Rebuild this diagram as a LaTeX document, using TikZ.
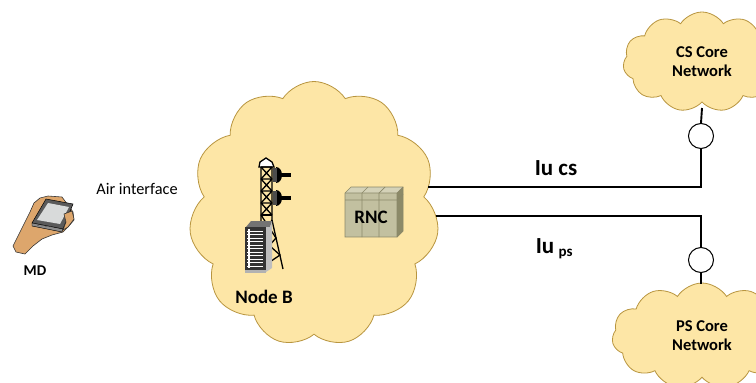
\documentclass[tikz,border=0pt]{standalone}
\usepackage{fontspec}
\setmainfont{Carlito}
\usetikzlibrary{shapes.symbols}

\definecolor{cloudfill}{HTML}{FDE6A6}
\definecolor{cloudline}{HTML}{B8953F}
\definecolor{rncfront}{HTML}{C2C0A0}
\definecolor{rnctop}{HTML}{D4D2B8}
\definecolor{rncside}{HTML}{8C8A68}
\definecolor{rncedge}{HTML}{8A8868}
\definecolor{skin}{HTML}{DDA66C}
\definecolor{devframe}{HTML}{5A5A5A}
\definecolor{devscreen}{HTML}{D8DADA}

\tikzset{
  netcloud/.style={shape=cloud, cloud puffs=11, cloud puff arc=115,
    cloud ignores aspect, draw=cloudline, fill=cloudfill, line width=0.8pt,
    inner sep=0pt, align=center, font=\fontsize{16.5}{19}\selectfont\bfseries},
  link/.style={draw=black, line width=1.9pt},
  tap/.style={circle, draw=black, fill=white, line width=1pt, minimum size=25pt, inner sep=0pt},
  lbl/.style={inner sep=0pt, font=\fontsize{19}{21}\selectfont\bfseries},
  small/.style={inner sep=0pt, font=\fontsize{16.3}{18}\selectfont},
  towerline/.style={draw=black, line width=1.3pt},
}

\begin{document}
\begin{tikzpicture}[x=1pt,y=-1pt]
\useasboundingbox (0,0) rectangle (756,383);
\clip (0,0) rectangle (756,383);

% radio access network cloud and the two core network clouds
\node[netcloud, minimum width=250pt, minimum height=265pt] (ran) at (314,214) {};
\node[netcloud, minimum width=158pt, minimum height=100pt] (cs) at (702,62) {CS Core\\Network};
\node[netcloud, minimum width=180pt, minimum height=106pt] (ps) at (702,336) {PS Core\\Network};

% Iu interfaces
\coordinate (csout) at (428,187);
\coordinate (psout) at (436,216);
\coordinate (cscorner) at (701,187);
\coordinate (pscorner) at (701,216);
\node[tap] (cstap) at (701,136) {};
\node[tap] (pstap) at (701,260) {};
\draw[link] (csout) -- (cscorner) -- (cstap.south);
\draw[link] (cstap.north) -- (cs.south |- 0,108);
\draw[link] (psout) -- (pscorner) -- (pstap.north);
\draw[link] (pstap.south) -- (701,284);

\node[lbl, font=\fontsize{23}{25}\selectfont\bfseries] (iucs) at (556,168) {Iu cs};
\node[lbl, font=\fontsize{23}{25}\selectfont\bfseries, anchor=base] (iups) at (545,253) {Iu};
\node[inner sep=0pt, anchor=base west, font=\fontsize{15}{16}\selectfont\bfseries] (iupssub) at ([xshift=4pt,yshift=-3pt]iups.base east) {ps};

% RNC cabinet
\fill[rnctop] (345,193) -- (351,187) -- (403,187) -- (397,193) -- cycle;
\fill[rncside] (397,193) -- (403,187) -- (403,231) -- (397,237) -- cycle;
\fill[rncfront] (345,193) rectangle (397,237);
\draw[rncedge, line width=0.7pt] (345,193) -- (351,187) -- (403,187) -- (403,231) -- (397,237) -- (345,237) -- cycle;
\draw[rncedge, line width=0.7pt] (345,193) -- (397,193) -- (403,187) (397,193) -- (397,237);
\draw[rncedge, line width=0.7pt] (345,200) -- (397,200) -- (403,194);
\draw[rncedge, line width=0.7pt] (362,193) -- (362,237) (362,193) -- (368,187);
\draw[rncedge, line width=0.7pt] (379,193) -- (379,237) (379,193) -- (385,187);
\node[lbl] (rnc) at (371,217) {RNC};

% Node B mast
\draw[towerline, fill=white] (259,167) -- (260,162) -- (266,158) -- (272,162) -- (274,167) -- cycle;
\draw[towerline] (261,167) -- (261,268) (272,167) -- (272,220) -- (283,269);
\foreach \y in {167,179,191,203} {
  \draw[towerline] (261,\y) -- (272,\y) (261,\y) -- (272,\y+12) (272,\y) -- (261,\y+12);
}
\draw[towerline] (261,215) -- (272,215);
\draw[towerline] (261,215) -- (276,238) -- (261,255) (272,220) -- (261,238) -- (280,255) -- (261,268);
% antennas
\foreach \y in {175,198} {
  \fill[black] (276,\y-8) .. controls (284,\y-8) and (284,\y+8) .. (276,\y+8) -- cycle;
  \fill[black!70] (273,\y-7) rectangle (277,\y+7);
  \fill[black] (281,\y-2) rectangle (291,\y+2);
}
% Node B equipment rack
\fill[black!55] (246,227) -- (251,221) -- (272,221) -- (270,227) -- cycle;
\fill[black!80] (245,227) rectangle (266,272);
\fill[black!25] (266,227) -- (270,227) -- (272,221) -- (272,268) -- (266,272) -- cycle;
\foreach \y in {231,234.5,...,267} {
  \draw[white, line width=0.9pt] (247,\y) -- (263,\y);
}
\draw[white, line width=1.2pt] (249,229) -- (249,268);
\fill[black!30] (245,270) rectangle (266,273);
\node[lbl] (nodeb) at (264,297) {Node B};

% mobile device in hand
\fill[skin, draw=black!80, line width=0.6pt]
  (13,246) -- (18,236) -- (24,224) -- (30,212) -- (34,203) -- (40,198) -- (48,196)
  -- (62,197) -- (68,205) -- (73,212) -- (74,220) -- (68,227) -- (63,232)
  -- (52,235) -- (42,239) -- (33,246) -- (25,254) -- (16,252) -- cycle;
\fill[devframe, draw=black, line width=0.5pt] (32,223) -- (46,199) -- (73,204) -- (63,229) -- cycle;
\fill[black!45, draw=black, line width=0.4pt] (32,223) -- (63,229) -- (62,232) -- (32,226) -- cycle;
\fill[devscreen] (37,220) -- (48,203) -- (69,207) -- (60,224) -- cycle;
\foreach \x in {38,42,...,58} {
  \fill[black!70] (\x,225.5+\x*0.08-3) circle (0.6);
}
\fill[skin, draw=black!80, line width=0.6pt] (64,214) -- (72,211) -- (74,219) -- (68,227) -- (63,230) -- (66,222) -- cycle;
\node[lbl, font=\fontsize{15}{17}\selectfont\bfseries] (md) at (35,271) {MD};
\node[small] (air) at (137,189) {Air interface};
\end{tikzpicture}
\end{document}
